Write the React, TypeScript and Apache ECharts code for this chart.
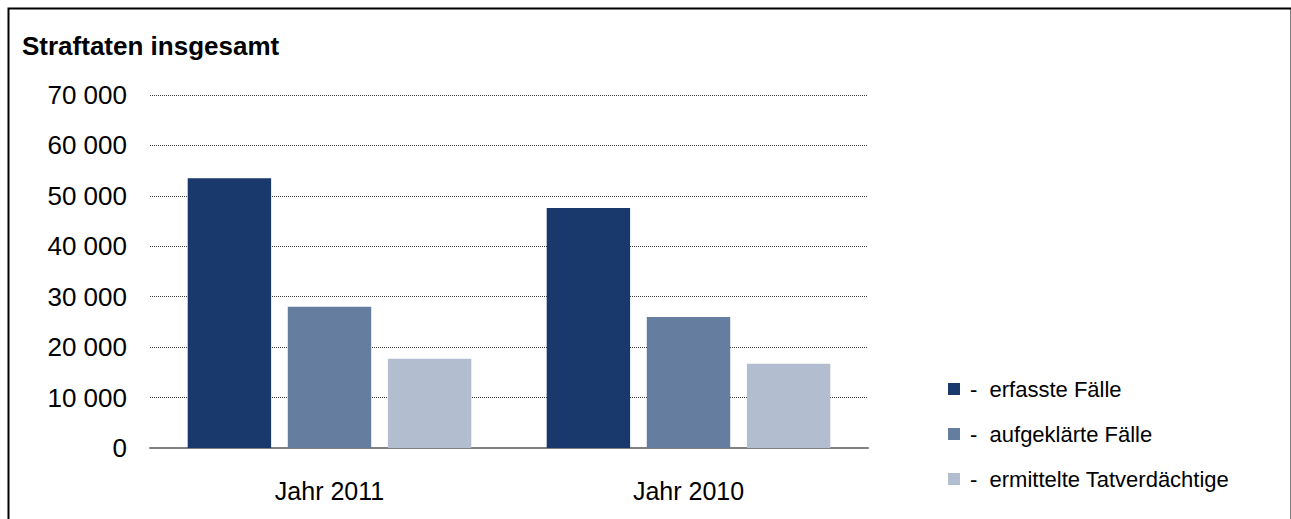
import React, { useEffect, useRef } from "react";
import * as echarts from "echarts";

const categories = ["Jahr 2011", "Jahr 2010"];
const seriesNames = ["erfasste Fälle", "aufgeklärte Fälle", "ermittelte Tatverdächtige"];
const erfassteFaelle = [53500, 47600];
const aufgeklaerteFaelle = [28000, 26000];
const ermittelteTatverdaechtige = [17700, 16700];
const seriesColors = ["#19396d", "#657d9f", "#b2bdd0"];
const yMin = 0;
const yMax = 70000;
const yInterval = 10000;
const titleText = "Straftaten insgesamt";

const FONT = "'Liberation Sans', Arial, sans-serif";

export default function App() {
  const ref = useRef<HTMLDivElement>(null);
  useEffect(() => {
    if (!ref.current) return;
    const chart = echarts.init(ref.current, undefined, { renderer: "svg" });
    const values = [erfassteFaelle, aufgeklaerteFaelle, ermittelteTatverdaechtige];
    chart.setOption({
      animation: false,
      backgroundColor: "#ffffff",
      title: {
        text: titleText,
        left: 22,
        top: 33,
        padding: 0,
        textStyle: { fontFamily: FONT, fontSize: 26, fontWeight: "bold", color: "#000" },
      },
      graphic: [
        {
          type: "rect",
          left: 6,
          top: 6,
          shape: { x: 0, y: 0, width: 1283, height: 530 },
          style: { fill: "none", stroke: "#000", lineWidth: 2 },
          silent: true,
        },
      ],
      legend: {
        orient: "vertical",
        left: 948,
        top: 378,
        padding: 0,
        itemWidth: 12,
        itemHeight: 12,
        itemGap: 23,
        icon: "rect",
        data: seriesNames,
        formatter: (name: string) => "-  " + name,
        textStyle: { fontFamily: FONT, fontSize: 22, color: "#000", padding: [0, 0, 0, 5] },
      },
      grid: { left: 150, right: 423, top: 95, bottom: 71, containLabel: false },
      xAxis: {
        type: "category",
        data: categories,
        axisLine: { show: true, lineStyle: { color: "#808080", width: 2 } },
        axisTick: { show: false },
        axisLabel: { fontFamily: FONT, fontSize: 25, color: "#000", margin: 30 },
      },
      yAxis: {
        type: "value",
        min: yMin,
        max: yMax,
        interval: yInterval,
        axisLine: { show: false },
        axisTick: { show: false },
        axisLabel: {
          fontFamily: FONT,
          fontSize: 26,
          color: "#000",
          margin: 23,
          formatter: (v: number) => String(v).replace(/\B(?=(\d{3})+(?!\d))/g, " "),
        },
        splitLine: { show: true, lineStyle: { color: "#404040", width: 1, type: [1, 1] } },
      },
      series: seriesNames.map((name, i) => ({
        name,
        type: "bar",
        data: values[i],
        barGap: "20%",
        barCategoryGap: "21%",
        itemStyle: { color: seriesColors[i] },
      })),
    });
    return () => chart.dispose();
  }, []);
  return (
    <div
      ref={ref}
      style={{ position: "absolute", left: 0, top: 0, width: 1291, height: 519 }}
    />
  );
}
